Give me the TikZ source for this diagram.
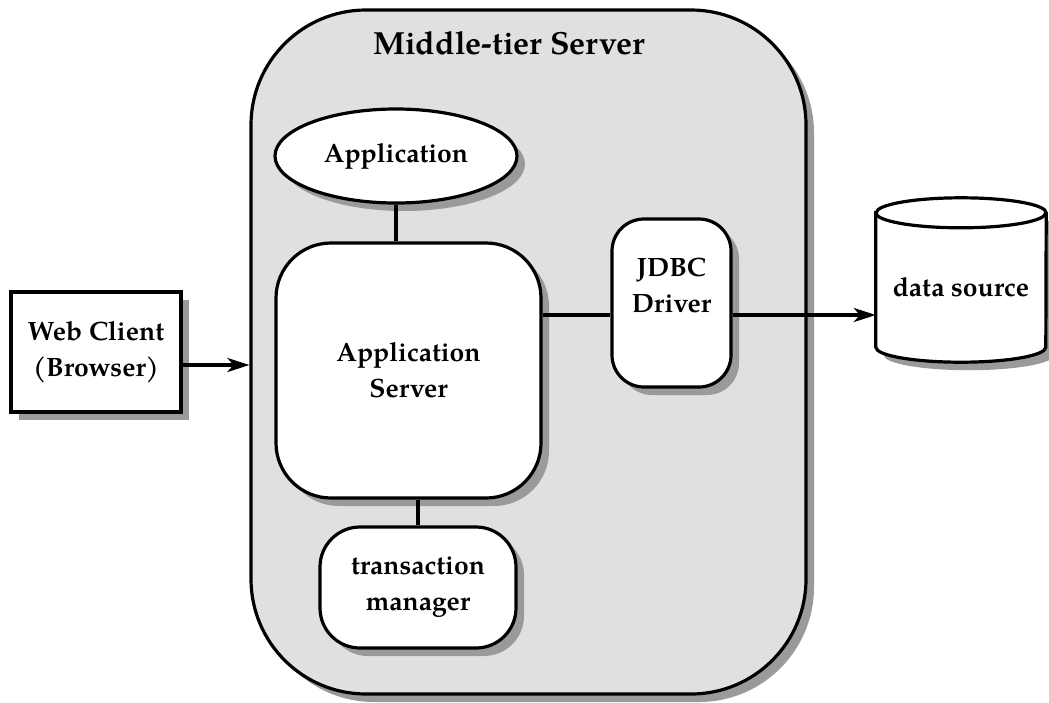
\documentclass[tikz,border=0pt]{standalone}
\usepackage{fontspec}
\setmainfont{texgyrepagella}[Extension=.otf, UprightFont=*-regular, BoldFont=*-bold]
\usetikzlibrary{shapes.geometric,shadows,arrows.meta}
\definecolor{shadowgray}{HTML}{9A9A9A}
\definecolor{tierfill}{HTML}{E0E0E0}
\tikzset{
  thk/.style={line width=3.2pt},
  shad/.style={drop shadow={shadow xshift=8pt, shadow yshift=-8pt, fill=shadowgray, opacity=1}},
  lbl/.style={font=\fontsize{26.5}{36}\selectfont\bfseries},
  box/.style={draw, thk, fill=white, shad, align=center, inner sep=0pt, lbl},
  conn/.style={thk},
  arr/.style={thk, -{Stealth[length=22pt,width=14pt,inset=6pt]}},
}
\begin{document}
\begin{tikzpicture}[x=1pt,y=-1pt]
\useasboundingbox (0,0) rectangle (1049,702);
% middle tier
\node[draw, thk, fill=tierfill, shad, rounded corners=115pt, inner sep=0pt,
      minimum width=555pt, minimum height=684pt] (mt) at (528.5,352) {};
\node[font=\fontsize{32}{36}\selectfont\bfseries] (mtl) at (509,43) {Middle-tier Server};
% application ellipse
\node[box, ellipse, minimum width=242pt, minimum height=94pt] (app) at (396,156) {Application};
% app server
\node[box, rounded corners=55pt, minimum width=265pt, minimum height=255pt] (as) at (408.5,370.5) {Application\\Server};
% transaction manager
\node[box, rounded corners=40pt, minimum width=196pt, minimum height=121pt] (tm) at (418,587.5) {transaction\\manager};
% JDBC
\node[box, rounded corners=32pt, minimum width=119pt, minimum height=168pt] (jd) at (671.5,303) {JDBC\\Driver\\\mbox{}};
% Web client
\node[box, rounded corners=0pt, minimum width=170pt, minimum height=120pt] (wc) at (96,352) {Web Client\\(Browser)};
% data source cylinder
\node[inner sep=0pt, minimum width=170pt, minimum height=164pt] (ds) at (961,280) {};
\fill[shadowgray] ([shift={(8pt,-23pt)}]ds.north west) -- ([shift={(8pt,7pt)}]ds.south west)
   arc[start angle=180,end angle=360,x radius=85pt,y radius=15pt] -- ([shift={(8pt,-23pt)}]ds.north east) -- cycle;
\draw[thk, fill=white] ([yshift=-15pt]ds.north west) -- ([yshift=15pt]ds.south west)
   arc[start angle=180,end angle=360,x radius=85pt,y radius=15pt] -- ([yshift=-15pt]ds.north east)
   arc[start angle=0,end angle=180,x radius=85pt,y radius=15pt] -- cycle;
\draw[thk] ([yshift=-15pt]ds.north west) arc[start angle=180,end angle=360,x radius=85pt,y radius=15pt];
\node[lbl] (dsl) at (961,287) {data source};
% connectors
\draw[conn] (app.south) -- (app.south |- as.north);
\draw[conn] (tm.north |- as.south) -- (tm.north);
\draw[conn] (as.east |- 0,315) -- (jd.west |- 0,315);
\draw[arr] (jd.east |- 0,315) -- (ds.west |- 0,315);
\draw[arr] (wc.east |- 0,365) -- (mt.west |- 0,365);
\end{tikzpicture}
\end{document}
